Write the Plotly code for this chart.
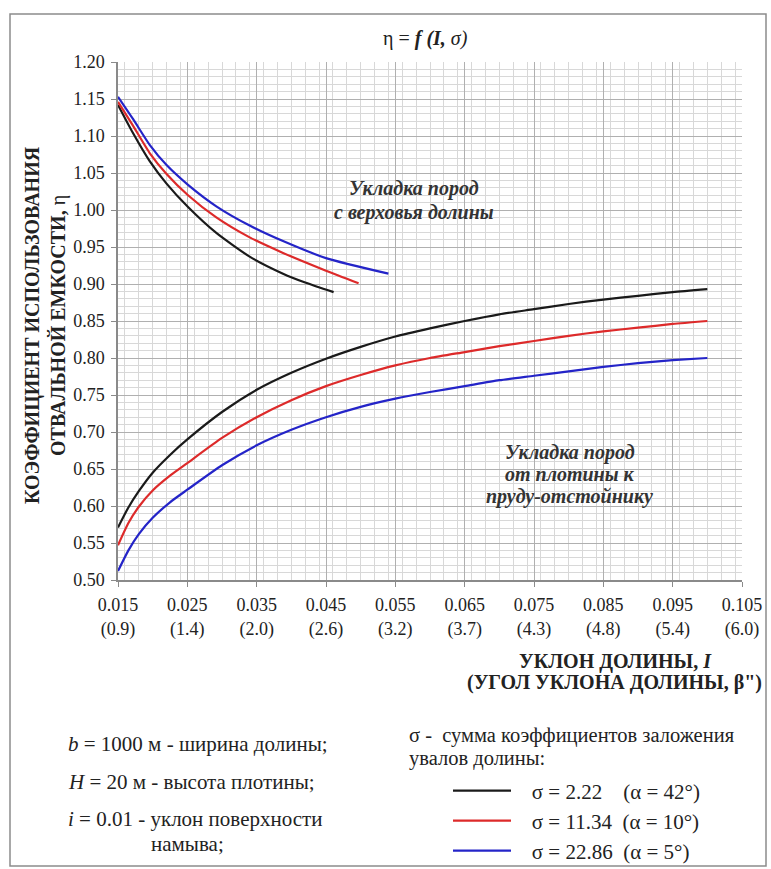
import plotly.graph_objects as go

# ---------------- data ----------------
x_up_black = [0.015, 0.01716, 0.01957, 0.02197, 0.0251, 0.02918, 0.03399, 0.0388, 0.0420, 0.0461]
y_up_black = [1.142, 1.104, 1.066, 1.036, 1.004, 0.969, 0.937, 0.914, 0.902, 0.889]

x_up_red = [0.015, 0.01716, 0.01957, 0.02197, 0.0251, 0.02918, 0.03399, 0.0388, 0.0450, 0.0497]
y_up_red = [1.146, 1.114, 1.077, 1.049, 1.020, 0.990, 0.963, 0.942, 0.918, 0.901]

x_up_blue = [0.015, 0.01716, 0.01957, 0.02197, 0.0251, 0.02918, 0.03399, 0.0388, 0.0450, 0.0540]
y_up_blue = [1.153, 1.123, 1.088, 1.061, 1.034, 1.005, 0.979, 0.958, 0.935, 0.914]

x_low = [0.015, 0.0165, 0.018, 0.020, 0.0225, 0.025, 0.030, 0.035, 0.040, 0.045, 0.050,
         0.055, 0.060, 0.065, 0.070, 0.075, 0.080, 0.085, 0.090, 0.095, 0.100]
y_low_black = [0.571, 0.598, 0.620, 0.645, 0.669, 0.690, 0.727, 0.757, 0.780, 0.799, 0.815,
               0.829, 0.840, 0.850, 0.859, 0.866, 0.873, 0.879, 0.884, 0.889, 0.893]
y_low_red = [0.547, 0.577, 0.599, 0.621, 0.641, 0.658, 0.692, 0.720, 0.743, 0.762, 0.777,
             0.790, 0.800, 0.808, 0.816, 0.823, 0.830, 0.836, 0.841, 0.846, 0.850]
y_low_blue = [0.512, 0.540, 0.562, 0.584, 0.605, 0.622, 0.655, 0.682, 0.703, 0.720, 0.734,
              0.745, 0.754, 0.762, 0.770, 0.776, 0.782, 0.788, 0.793, 0.797, 0.800]

x_tickvals = [0.015, 0.025, 0.035, 0.045, 0.055, 0.065, 0.075, 0.085, 0.095, 0.105]
x_ticktext = ["0.015", "0.025", "0.035", "0.045", "0.055", "0.065", "0.075", "0.085", "0.095", "0.105"]
angle_ticktext = ["(0.9)", "(1.4)", "(2.0)", "(2.6)", "(3.2)", "(3.7)", "(4.3)", "(4.8)", "(5.4)", "(6.0)"]
y_tickvals = [0.50, 0.55, 0.60, 0.65, 0.70, 0.75, 0.80, 0.85, 0.90, 0.95, 1.00, 1.05, 1.10, 1.15, 1.20]

NB = "\u00a0"
series_names = [NB * 3 + "σ = 2.22" + NB * 4 + "(α = 42°)",
                NB * 3 + "σ = 11.34" + NB * 2 + "(α = 10°)",
                NB * 3 + "σ = 22.86" + NB * 2 + "(α = 5°)"]
colors = ["#1a1a1a", "#dd2a2a", "#2424c8"]

# ---------------- layout geometry ----------------
W, H = 771, 869
L, R, T, B = 118, 742, 62, 580
SERIF = "Liberation Serif"


def px(x):
    return (x - L) / (R - L)


def py(y):
    return (B - y) / (B - T)


fig = go.Figure()

uppers = [(x_up_black, y_up_black), (x_up_red, y_up_red), (x_up_blue, y_up_blue)]
lowers = [y_low_black, y_low_red, y_low_blue]
legends = ["legend", "legend2", "legend3"]

for i in range(3):
    fig.add_trace(go.Scatter(x=uppers[i][0], y=uppers[i][1], mode="lines",
                             line=dict(color=colors[i], width=2.2, shape="spline", smoothing=0.6),
                             showlegend=False, hoverinfo="skip"))
    fig.add_trace(go.Scatter(x=x_low, y=lowers[i], mode="lines", name=series_names[i],
                             line=dict(color=colors[i], width=2.2, shape="spline", smoothing=0.6),
                             legend=legends[i], showlegend=True))

# invisible trace for second x axis (angle labels)
fig.add_trace(go.Scatter(x=[0.015, 0.105], y=[None, None], xaxis="x2", mode="lines",
                         showlegend=False, hoverinfo="skip"))

leg_rows = [791, 821, 851]
legend_common = dict(font=dict(family=SERIF, size=21, color="#222"), bgcolor="rgba(0,0,0,0)",
                     xanchor="left", yanchor="middle", itemwidth=58, borderwidth=0)
fig.update_layout(
    legend=dict(x=px(448), y=py(leg_rows[0]), **legend_common),
    legend2=dict(x=px(448), y=py(leg_rows[1]), **legend_common),
    legend3=dict(x=px(448), y=py(leg_rows[2]), **legend_common),
)

fig.update_layout(
    width=W, height=H,
    margin=dict(l=L, r=W - R, t=T, b=H - B, autoexpand=False),
    paper_bgcolor="white", plot_bgcolor="white",
    font=dict(family=SERIF, color="#222"),
    xaxis=dict(range=[0.015, 0.105], tickvals=x_tickvals, ticktext=x_ticktext,
               tickfont=dict(family=SERIF, size=18, color="#222"), ticklabelstandoff=3,
               showgrid=True, gridcolor="#b0b0b0", gridwidth=1,
               minor=dict(dtick=0.002, showgrid=True, gridcolor="#d8d8d8", gridwidth=1),
               showline=True, linecolor="#8a8a8a", linewidth=1.5,
               ticks="outside", ticklen=5, tickcolor="#8a8a8a", zeroline=False),
    xaxis2=dict(range=[0.015, 0.105], overlaying="x", anchor="y", side="bottom",
                tickvals=x_tickvals, ticktext=angle_ticktext,
                tickfont=dict(family=SERIF, size=18, color="#222"),
                showgrid=False, showline=False, ticks="", ticklabelstandoff=36, zeroline=False),
    yaxis=dict(range=[0.50, 1.20], tickvals=y_tickvals, tickformat=".2f",
               tickfont=dict(family=SERIF, size=18, color="#222"), ticklabelstandoff=3,
               showgrid=True, gridcolor="#b0b0b0", gridwidth=1,
               minor=dict(dtick=0.01, showgrid=True, gridcolor="#d8d8d8", gridwidth=1),
               showline=True, linecolor="#8a8a8a", linewidth=1.5,
               ticks="outside", ticklen=5, tickcolor="#8a8a8a", zeroline=False),
)


def note(xp, yp, text, size=20, xanchor="center", angle=0, color="#222"):
    return dict(x=px(xp), y=py(yp), xref="paper", yref="paper", showarrow=False,
                xanchor=xanchor, yanchor="middle", textangle=angle, text=text,
                font=dict(family=SERIF, size=size, color=color))


ann = [
    note(425, 38, "η = <b><i>f (I,</i></b><i> σ)</i>", size=20),
    note(45, 325, "<b>КОЭФФИЦИЕНТ ИСПОЛЬЗОВАНИЯ<br>ОТВАЛЬНОЙ ЕМКОСТИ, </b>η", size=20, angle=-90),
    note(615, 661, "<b>УКЛОН ДОЛИНЫ, <i>I</i></b>", size=20),
    note(614, 682, "<b>(УГОЛ УКЛОНА ДОЛИНЫ, β\")</b>", size=20),
    note(414, 189, "<b><i>Укладка пород</i></b>", size=20, color="#333"),
    note(414, 212, "<b><i>с верховья долины</i></b>", size=20, color="#333"),
    note(570, 452, "<b><i>Укладка пород</i></b>", size=20, color="#333"),
    note(570, 474, "<b><i>от плотины к</i></b>", size=20, color="#333"),
    note(569, 496, "<b><i>пруду-отстойнику</i></b>", size=20, color="#333"),
    note(66, 744, "<i>b</i> = 1000 м - ширина долины;", size=21, xanchor="left"),
    note(66, 782, "<i>H</i> = 20 м - высота плотины;", size=21, xanchor="left"),
    note(66, 819, "<i>i</i> = 0.01 - уклон поверхности", size=21, xanchor="left"),
    note(149, 844, "намыва;", size=21, xanchor="left"),
    note(407, 735, "σ -  сумма коэффициентов заложения", size=20.5, xanchor="left"),
    note(407, 758, "увалов долины:", size=20.5, xanchor="left"),
]
fig.update_layout(annotations=ann)

# outer frame
fig.add_shape(type="rect", xref="paper", yref="paper",
              x0=px(10), x1=px(766), y0=py(866), y1=py(14),
              line=dict(color="#8c8c8c", width=1.5), fillcolor="rgba(0,0,0,0)", layer="below")

fig.write_html("out.html", config={"displayModeBar": False},
               post_script="document.body.style.margin='0';")
